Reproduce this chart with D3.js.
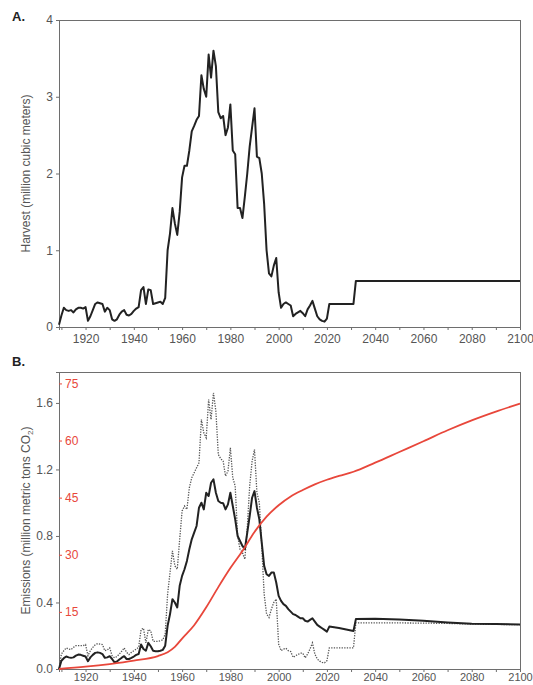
<!DOCTYPE html>
<html>
<head>
<meta charset="utf-8">
<script src="https://cdn.jsdelivr.net/npm/d3@7"></script>
<style>
  body { margin: 0; background: #fff; }
  svg { font-family: "Liberation Sans", Arial, sans-serif; }
  .axis text { fill: #555; font-size: 12px; }
  .axis line, .axis path { stroke: #6e6e6e; }
</style>
</head>
<body>
<div id="chart"></div>
<script>
// annual years 1909-2021 shared by both panels
var annualYears = [1909,1910,1911,1912,1913,1914,1915,1916,1917,1918,1919,1920,1921,1922,1923,1924,1925,1926,1927,1928,1929,
  1930,1931,1932,1933,1934,1935,1936,1937,1938,1939,1940,1941,1942,1943,1944,1945,1946,1947,1948,1949,
  1950,1951,1952,1953,1954,1955,1956,1957,1958,1959,1960,1961,1962,1963,1964,1965,1966,1967,1968,1969,
  1970,1971,1972,1973,1974,1975,1976,1977,1978,1979,1980,1981,1982,1983,1984,1985,1986,1987,1988,1989,
  1990,1991,1992,1993,1994,1995,1996,1997,1998,1999,2000,2001,2002,2003,2004,2005,2006,2007,2008,2009,
  2010,2011,2012,2013,2014,2015,2016,2017,2018,2019,2020,2021];

// Panel A: harvest (million cubic meters)
var harvestYears = annualYears.concat([2030, 2031, 2032, 2100]);
var harvest = [0.03,0.15,0.25,0.22,0.21,0.22,0.19,0.23,0.25,0.25,0.24,0.26,0.08,0.14,0.22,0.3,0.32,0.31,0.3,0.2,0.25,
  0.22,0.1,0.08,0.1,0.16,0.2,0.22,0.16,0.15,0.17,0.21,0.24,0.26,0.48,0.52,0.3,0.49,0.48,0.3,0.31,
  0.32,0.33,0.3,0.38,1.0,1.22,1.55,1.35,1.2,1.5,1.95,2.1,2.1,2.3,2.55,2.62,2.7,2.75,3.28,3.1,
  3.0,3.55,3.25,3.6,3.4,2.8,2.72,2.75,2.5,2.6,2.9,2.3,2.25,1.55,1.55,1.42,1.7,2.0,2.35,2.6,
  2.85,2.22,2.2,2.0,1.6,1.0,0.7,0.66,0.8,0.9,0.45,0.25,0.3,0.32,0.3,0.28,0.14,0.17,0.19,0.21,
  0.18,0.14,0.23,0.28,0.34,0.24,0.14,0.1,0.08,0.07,0.11,0.3,
  0.3,0.3,0.6,0.6];

// Panel B: emissions (million metric tons CO2)
var emisYears = annualYears.concat([2025, 2028, 2031, 2032, 2040, 2050, 2060, 2070, 2080, 2090, 2100]);
var emisSolid = [0.0,0.05,0.065,0.075,0.07,0.067,0.07,0.08,0.087,0.085,0.08,0.075,0.047,0.07,0.085,0.097,0.1,0.097,0.09,0.067,0.07,
  0.077,0.06,0.04,0.045,0.057,0.068,0.077,0.06,0.06,0.067,0.075,0.085,0.09,0.147,0.12,0.11,0.157,0.137,0.11,0.107,
  0.107,0.11,0.115,0.14,0.26,0.33,0.42,0.4,0.37,0.5,0.56,0.6,0.65,0.72,0.78,0.82,0.86,0.97,1.0,0.96,
  1.06,1.04,1.12,1.14,1.06,1.01,1.0,0.997,0.96,0.99,1.06,0.98,0.9,0.8,0.77,0.74,0.72,0.82,0.92,1.03,
  1.07,0.97,0.9,0.76,0.62,0.57,0.56,0.58,0.58,0.52,0.44,0.41,0.39,0.38,0.36,0.345,0.33,0.325,0.315,0.305,
  0.305,0.29,0.285,0.295,0.305,0.285,0.265,0.255,0.245,0.235,0.225,0.255,
  0.247,0.238,0.228,0.3,0.302,0.298,0.29,0.28,0.272,0.27,0.268];
var emisDotted = [0.0,0.09,0.11,0.127,0.12,0.117,0.13,0.14,0.14,0.14,0.14,0.147,0.08,0.11,0.13,0.145,0.153,0.15,0.147,0.11,0.115,
  0.127,0.08,0.067,0.075,0.09,0.107,0.127,0.1,0.087,0.1,0.11,0.12,0.13,0.237,0.245,0.157,0.237,0.23,0.167,0.165,
  0.167,0.17,0.175,0.21,0.45,0.58,0.71,0.62,0.6,0.78,0.95,0.98,0.96,1.09,1.15,1.18,1.21,1.24,1.5,1.42,
  1.39,1.62,1.5,1.66,1.55,1.29,1.265,1.25,1.16,1.19,1.33,1.15,1.1,0.8,0.72,0.7,0.66,0.85,1.1,1.25,
  1.32,1.06,1.0,0.74,0.45,0.33,0.31,0.36,0.4,0.42,0.15,0.11,0.12,0.125,0.11,0.105,0.07,0.08,0.087,0.095,
  0.095,0.067,0.09,0.12,0.157,0.09,0.06,0.047,0.04,0.037,0.05,0.127,
  0.127,0.127,0.127,0.277,0.277,0.277,0.276,0.274,0.27,0.268,0.267];

// cumulative (red, right-hand scale)
var cumYears = [1909,1920,1930,1940,1950,1954,1957,1960,1965,1970,1975,1980,1985,1990,1995,2000,2005,2010,2015,2020,2025,2031,2040,2050,2060,2070,2080,2090,2100];
var cumValues = [0,0.6,1.3,2.2,3.4,4.4,5.8,8,11.5,16.2,21.5,26.5,31,36,40,43,45.3,47,48.5,49.7,50.7,51.8,54.2,57,59.8,62.7,65.3,67.6,69.7];

var xTicks = [1910,1920,1930,1940,1950,1960,1970,1980,1990,2000,2010,2020,2030,2040,2050,2060,2070,2080,2090,2100];
var harvestTicks = [0, 1, 2, 3, 4];
var emisTicks = [0, 0.4, 0.8, 1.2, 1.6];
var cumTicks = [15, 30, 45, 60, 75];

var red = "#e8473b";
var W = 533, H = 685;
var left = 59, right = 520;

var svg = d3.select("#chart").append("svg")
    .attr("width", W)
    .attr("height", H);

var x = d3.scaleLinear().domain([1909, 2100]).range([left, right]);

function panel(top, bottom, letter, letterY, title, yDomain, yTicks, yFmt, xPad, xFont) {
  var y = d3.scaleLinear().domain(yDomain).range([bottom, top]);

  // frame
  svg.append("rect")
    .attr("x", left + 0.5).attr("y", top + 0.5)
    .attr("width", right - left).attr("height", bottom - top)
    .attr("fill", "none").attr("stroke", "#6e6e6e");

  var xa = svg.append("g").attr("class", "axis")
    .attr("transform", "translate(0," + bottom + ")")
    .call(d3.axisBottom(x).tickValues(xTicks).tickSize(3).tickPadding(xPad)
      .tickFormat(d => d % 20 === 0 ? d : ""));
  xa.selectAll("text").style("font-size", xFont);

  svg.append("g").attr("class", "axis")
    .attr("transform", "translate(" + left + ",0)")
    .call(d3.axisLeft(y).tickValues(yTicks).tickSize(3).tickPadding(3).tickFormat(yFmt));

  svg.append("text")
    .attr("x", 12).attr("y", letterY)
    .attr("font-weight", "bold").attr("font-size", "13px").attr("fill", "#222")
    .text(letter);

  var t = svg.append("text")
    .attr("transform", "translate(30," + ((top + bottom) / 2) + ") rotate(-90)")
    .attr("text-anchor", "middle")
    .attr("font-size", "12px").attr("fill", "#555");
  title(t);
  return y;
}

// Panel A
var yA = panel(20, 327, "A.", 21, function(t) { t.text("Harvest (million cubic meters)"); },
  [0, 4], harvestTicks, d3.format("d"), 4, "12px");

svg.append("path")
  .datum(harvestYears.map((yr, i) => [yr, harvest[i]]))
  .attr("fill", "none").attr("stroke", "#222").attr("stroke-width", 2)
  .attr("stroke-linejoin", "round")
  .attr("d", d3.line().x(d => x(d[0])).y(d => yA(d[1])));

// Panel B
var yB = panel(372, 669, "B.", 366, function(t) {
    t.append("tspan").text("Emissions (million metric tons CO");
    t.append("tspan").attr("font-size", "8px").attr("dy", "3").text("2");
    t.append("tspan").attr("dy", "-3").text(")");
  }, [0, 1.786], emisTicks, d3.format(".1f"), 1, "11px");

var yR = d3.scaleLinear().domain([0, 78]).range([669, 372]);

var redAxis = svg.append("g")
  .attr("transform", "translate(" + left + ",0)")
  .call(d3.axisRight(yR).tickValues(cumTicks).tickSize(3).tickPadding(3));
redAxis.select(".domain").remove();
redAxis.selectAll("line").attr("stroke", red);
redAxis.selectAll("text").attr("fill", red).attr("font-size", "12px");

svg.append("path")
  .datum(emisYears.map((yr, i) => [yr, emisDotted[i]]))
  .attr("fill", "none").attr("stroke", "#555").attr("stroke-width", 1.3)
  .attr("stroke-dasharray", "1.3,1.3")
  .attr("d", d3.line().x(d => x(d[0])).y(d => yB(d[1])));

svg.append("path")
  .datum(emisYears.map((yr, i) => [yr, emisSolid[i]]))
  .attr("fill", "none").attr("stroke", "#222").attr("stroke-width", 2)
  .attr("stroke-linejoin", "round")
  .attr("d", d3.line().x(d => x(d[0])).y(d => yB(d[1])));

svg.append("path")
  .datum(cumYears.map((yr, i) => [yr, cumValues[i]]))
  .attr("fill", "none").attr("stroke", red).attr("stroke-width", 1.8)
  .attr("d", d3.line().curve(d3.curveMonotoneX).x(d => x(d[0])).y(d => yR(d[1])));
</script>
</body>
</html>
